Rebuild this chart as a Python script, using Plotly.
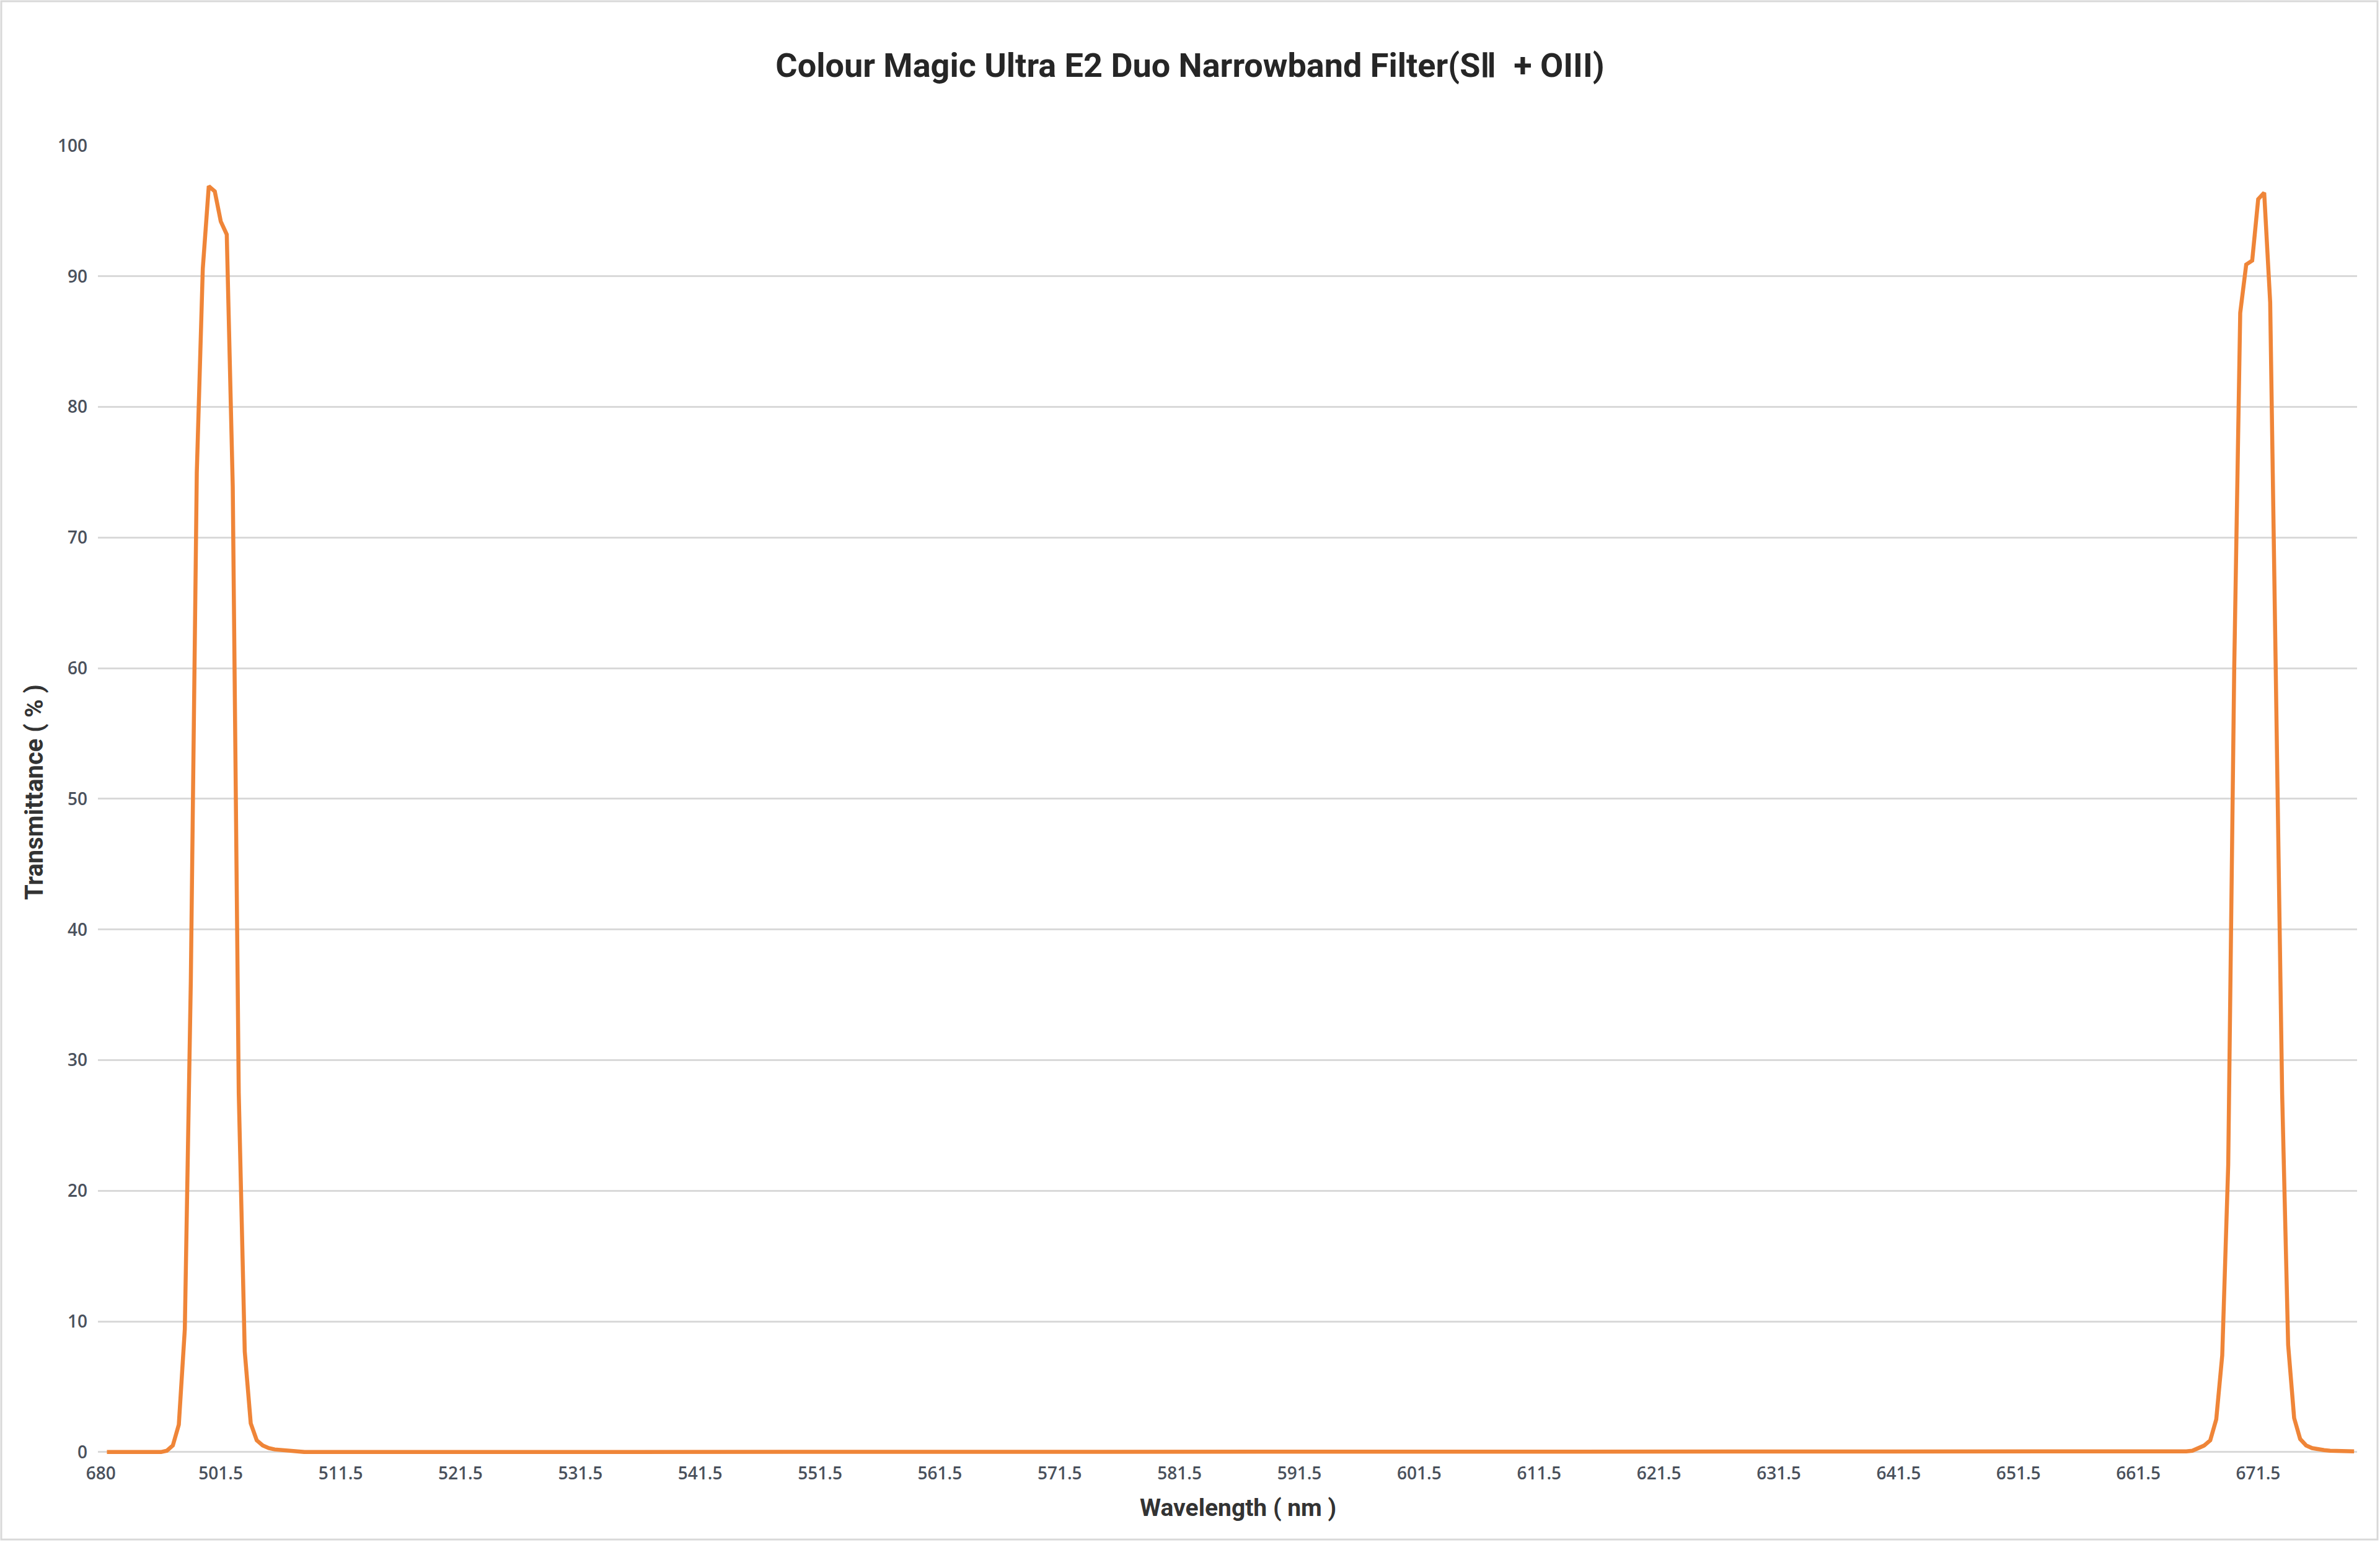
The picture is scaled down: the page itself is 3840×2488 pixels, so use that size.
import plotly.graph_objects as go

# ---------------- data ----------------
# Category axis as in the source chart: first category is labelled "680" (no value),
# followed by 492 ... 679.5 nm in 0.5 nm steps.
WAVELENGTH_LABELS = ["680"] + [f"{492 + 0.5 * k:g}" for k in range(376)]

# Transmittance (%), rows of 20 points (10 nm each)
TRANSMITTANCE = [None] + [
    # 492 - 501.5
    0, 0, 0, 0, 0, 0, 0, 0, 0, 0, 0.1, 0.5, 2.1, 9.4, 36, 75, 90.6, 96.9, 96.5, 94.2,
    # 502 - 511.5
    93.2, 73.9, 27.5, 7.7, 2.2, 0.9, 0.5, 0.3, 0.2, 0.15, 0.1, 0.08, 0.05, 0, 0, 0, 0, 0, 0, 0,
    # 512 - 521.5
    0, 0, 0, 0, 0, 0, 0, 0, 0, 0, 0, 0, 0, 0, 0, 0, 0, 0, 0, 0,
    # 522 - 531.5
    0, 0, 0, 0, 0, 0, 0, 0, 0, 0, 0, 0, 0, 0, 0, 0, 0, 0, 0, 0,
    # 532 - 541.5
    0, 0, 0, 0, 0, 0, 0, 0, 0, 0, 0, 0, 0, 0, 0, 0, 0, 0, 0, 0,
    # 542 - 551.5
    0, 0, 0, 0, 0, 0, 0, 0, 0, 0, 0, 0, 0, 0, 0, 0, 0, 0, 0, 0,
    # 552 - 561.5
    0, 0, 0, 0, 0, 0, 0, 0, 0, 0, 0, 0, 0, 0, 0, 0, 0, 0, 0, 0,
    # 562 - 571.5
    0, 0, 0, 0, 0, 0, 0, 0, 0, 0, 0, 0, 0, 0, 0, 0, 0, 0, 0, 0,
    # 572 - 581.5
    0, 0, 0, 0, 0, 0, 0, 0, 0, 0, 0, 0, 0, 0, 0, 0, 0, 0, 0, 0,
    # 582 - 591.5
    0, 0, 0, 0, 0, 0, 0, 0, 0, 0, 0, 0, 0, 0, 0, 0, 0, 0, 0, 0,
    # 592 - 601.5
    0, 0, 0, 0, 0, 0, 0, 0, 0, 0, 0, 0, 0, 0, 0, 0, 0, 0, 0, 0,
    # 602 - 611.5
    0, 0, 0, 0, 0, 0, 0, 0, 0, 0, 0, 0, 0, 0, 0, 0, 0, 0, 0, 0,
    # 612 - 621.5
    0, 0, 0, 0, 0, 0, 0, 0, 0, 0, 0, 0, 0, 0, 0, 0, 0, 0, 0, 0,
    # 622 - 631.5
    0, 0, 0, 0, 0, 0, 0, 0, 0, 0, 0, 0, 0, 0, 0, 0, 0, 0, 0, 0,
    # 632 - 641.5
    0, 0, 0, 0, 0, 0, 0, 0, 0, 0, 0, 0, 0, 0, 0, 0, 0, 0, 0, 0,
    # 642 - 651.5
    0, 0, 0, 0, 0, 0, 0, 0, 0, 0, 0, 0, 0, 0, 0, 0, 0, 0, 0, 0,
    # 652 - 661.5
    0, 0, 0, 0, 0, 0, 0, 0, 0, 0, 0, 0, 0, 0, 0, 0, 0, 0, 0, 0,
    # 662 - 671.5
    0, 0, 0, 0, 0, 0, 0, 0.05, 0.1, 0.3, 0.5, 0.9, 2.5, 7.4, 22, 60, 87.2, 90.9, 91.2, 95.9,
    # 672 - 679.5
    96.4, 88.0, 55, 27.4, 8.2, 2.6, 1.0, 0.5, 0.3, 0.2, 0.15, 0.1, 0.08, 0.05, 0.05, 0.05,
]

X_TICK_LABELS = WAVELENGTH_LABELS[::20]
Y_TICKS = [0, 10, 20, 30, 40, 50, 60, 70, 80, 90, 100]

TITLE = "Colour Magic Ultra E2 Duo Narrowband Filter(SⅡ  + OIII)"
X_TITLE = "Wavelength ( nm )"
Y_TITLE = "Transmittance ( % )"

# ---------------- layout geometry ----------------
W, H = 3840, 2488
ML, MR, MT, MB = 158, 37, 235, 142
PW, PH = W - ML - MR, H - MT - MB


def px_x(p):
    return (p - ML) / PW


def px_y(p):
    return (H - MB - p) / PH


TICK_COLOR = "#4a515c"
GRID = "#d9d9d9"

fig = go.Figure(
    go.Scatter(
        x=WAVELENGTH_LABELS,
        y=TRANSMITTANCE,
        mode="lines",
        line=dict(color="#EF8538", width=6.5),
        connectgaps=False,
        hoverinfo="x+y",
    )
)

fig.update_layout(
    width=W,
    height=H,
    margin=dict(l=ML, r=MR, t=MT, b=MB, autoexpand=False),
    paper_bgcolor="white",
    plot_bgcolor="white",
    showlegend=False,
    title=dict(
        text=TITLE,
        x=0.5,
        xref="container",
        xanchor="center",
        y=1 - 105 / H,
        yref="container",
        yanchor="middle",
        font=dict(family="Roboto, sans-serif", size=54, color="#262626", weight="bold"),
    ),
    xaxis=dict(
        type="category",
        range=[-0.5, 376.5],
        tickmode="array",
        tickvals=X_TICK_LABELS,
        ticktext=X_TICK_LABELS,
        showgrid=False,
        showline=False,
        zeroline=False,
        ticks="",
        ticklabelstandoff=12,
        tickfont=dict(family="Open Sans, Roboto, sans-serif", size=28, color=TICK_COLOR, weight=600),
    ),
    yaxis=dict(
        range=[-0.15, 100],
        tickmode="array",
        tickvals=Y_TICKS,
        showgrid=True,
        gridcolor=GRID,
        gridwidth=2.5,
        showline=False,
        zeroline=False,
        ticks="",
        ticklabelstandoff=16,
        layer="below traces",
        tickfont=dict(family="Open Sans, Roboto, sans-serif", size=28, color=TICK_COLOR, weight=600),
    ),
    annotations=[
        dict(
            text=X_TITLE,
            xref="paper", yref="paper",
            x=px_x(1997), y=px_y(2433),
            xanchor="center", yanchor="middle",
            showarrow=False,
            font=dict(family="Roboto, sans-serif", size=39, color="#333333", weight="bold"),
        ),
        dict(
            text=Y_TITLE,
            xref="paper", yref="paper",
            x=px_x(55), y=px_y(1278),
            xanchor="center", yanchor="middle",
            textangle=-90,
            showarrow=False,
            font=dict(family="Roboto, sans-serif", size=40, color="#333333", weight="bold"),
        ),
    ],
    shapes=[
        dict(
            type="rect",
            xref="paper", yref="paper",
            x0=px_x(2), x1=px_x(3836),
            y0=px_y(2484), y1=px_y(2),
            line=dict(color="#d9d9d9", width=3),
            fillcolor="rgba(0,0,0,0)",
            layer="below",
        )
    ],
)

# remove the browser's default page margin so the figure sits at (0, 0)
fig.write_html(
    "out.html",
    config={"displayModeBar": False},
    post_script="document.body.style.margin='0px';document.body.style.overflow='hidden';",
)
